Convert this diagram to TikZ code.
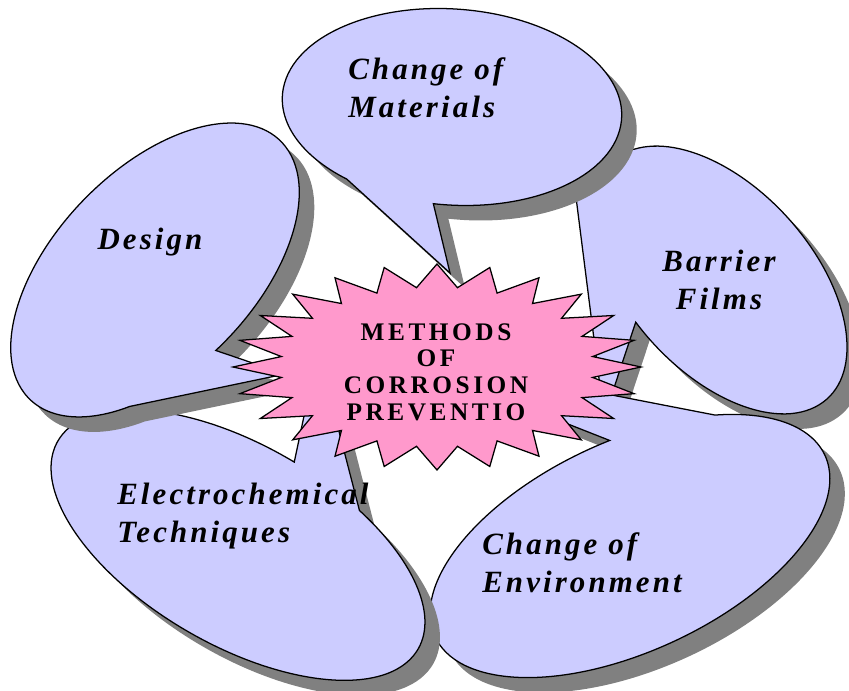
\documentclass[tikz,border=0pt]{standalone}
\usepackage{fontspec}
\setmainfont{Liberation Serif}
\newfontfamily\bubblefont[LetterSpace=10]{Liberation Serif}
\newfontfamily\hubfont[LetterSpace=14]{Liberation Serif}

\definecolor{lavender}{HTML}{CCCCFF}
\definecolor{shadowgray}{HTML}{808080}
\definecolor{starpink}{HTML}{FF99CC}

\tikzset{
  bubble/.style={draw=black, line width=0.9pt, fill=lavender,
    preaction={fill=shadowgray, transform canvas={shift={(0.375cm,-0.375cm)}}}},
  bubbletext/.style={font=\bubblefont\bfseries\itshape\fontsize{22}{27}\selectfont,
    align=left, inner sep=0pt},
  hubtext/.style={font=\hubfont\bfseries\fontsize{18}{19}\selectfont,
    align=center, inner sep=0pt}
}

\begin{document}
\begin{tikzpicture}[x=0.025cm, y=0.025cm]
    \useasboundingbox (0,0) rectangle (849,691);

    % where the tails of the bubbles end
    \coordinate (hub) at (437,324);
    \coordinate (tipM) at (450,418);
    \coordinate (tipD) at (285,317);
    \coordinate (tipB) at (604,273);
    \coordinate (cornerB) at (570,541);
    \coordinate (tipE) at (318,341);
    \coordinate (tipV) at (380,341);

    % Barrier Films
    \begin{scope}[shift={(720,411)}, rotate=-48]
        \draw[bubble] (261:160 and 92) arc[start angle=261, end angle=525, x radius=160, y radius=92]
            -- (cornerB) -- (tipB) -- cycle;
    \end{scope}

    % Change of Environment
    \begin{scope}[shift={(630,145)}, rotate=25]
        \draw[bubble] (83:215 and 105) arc[start angle=83, end angle=412, x radius=215, y radius=105]
            -- (tipV) -- cycle;
    \end{scope}

    % Electrochemical Techniques
    \begin{scope}[shift={(238,146)}, rotate=-30]
        \draw[bubble] (88:208 and 100) arc[start angle=88, end angle=425, x radius=208, y radius=100]
            -- (tipE) -- cycle;
    \end{scope}

    % Design
    \begin{scope}[shift={(155,421)}, rotate=46]
        \draw[bubble] (265:180 and 100) arc[start angle=265, end angle=590, x radius=180, y radius=100]
            -- (tipD) -- cycle;
    \end{scope}

    % Change of Materials
    \begin{scope}[shift={(452,584)}, rotate=-4]
        \draw[bubble] (266:170 and 98) arc[start angle=266, end angle=594, x radius=170, y radius=98]
            -- (tipM) -- cycle;
    \end{scope}

    % the star in the middle
    \draw[line width=0.9pt, fill=starpink, shift={(hub)}] (0:204 and 103)
        \foreach \k in {0,...,23} { -- ({\k*15+7.5}:157 and 80) -- ({\k*15+15}:204 and 103) } -- cycle;

    \node[hubtext] (title) at (436,319) {METHODS\\OF\\CORROSION\\PREVENTIO};

    \node[bubbletext, anchor=west] (materials) at (348,603) {Change of\\Materials};
    \node[bubbletext] (design) at (150,449) {Design};
    \node[bubbletext, align=center] (barrier) at (719,411) {Barrier\\Films};
    \node[bubbletext, anchor=west] (electro) at (117,175) {Electrochemical\\Techniques};
    \node[bubbletext, anchor=west] (environ) at (482,128) {Change of\\Environment};
\end{tikzpicture}
\end{document}
